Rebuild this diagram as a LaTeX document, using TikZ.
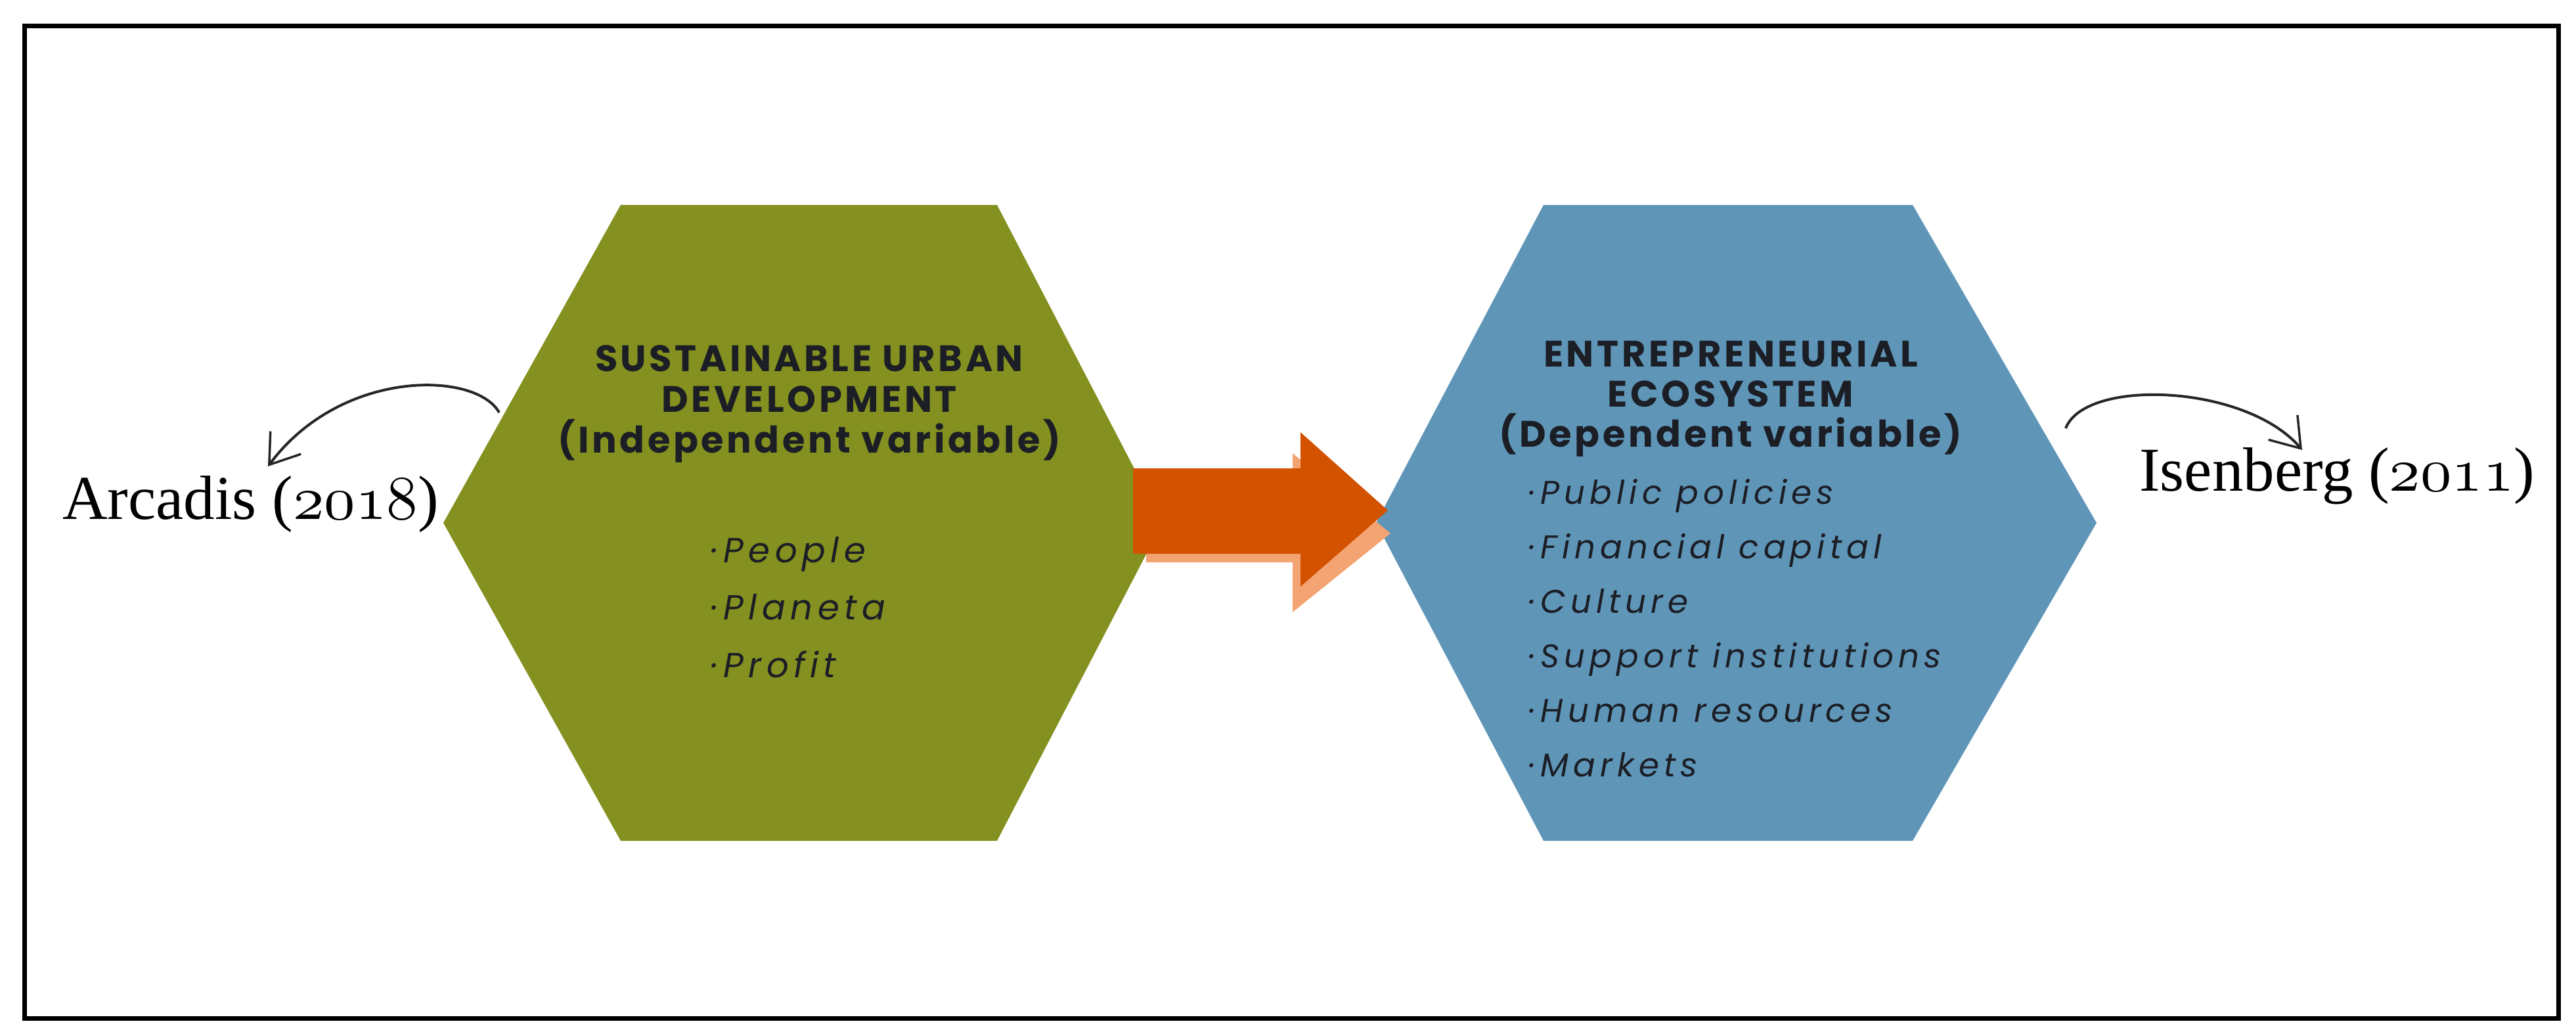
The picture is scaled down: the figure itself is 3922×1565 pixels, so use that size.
\documentclass[tikz,border=0pt]{standalone}
\usepackage{graphicx}
\usepackage{fontspec}
\usetikzlibrary{arrows.meta}
\newfontfamily\titlefont[LetterSpace=8]{Poppins}
\newfontfamily\itemfont[LetterSpace=14]{Poppins}
\newfontfamily\reffont{Liberation Serif}
\newcommand{\osfig}[1]{\scalebox{9.5}{\fontsize{10}{12}\usefont{OML}{cmm}{m}{it}#1}}
\definecolor{hexgreen}{HTML}{84901F}
\definecolor{hexblue}{HTML}{5F96B8}
\definecolor{arroworange}{HTML}{D25200}
\definecolor{arrowshadow}{HTML}{F4A472}
\definecolor{inktext}{HTML}{1C1E26}
\tikzset{
  titletext/.style={font=\titlefont\bfseries\fontsize{56}{62}\selectfont, text=inktext, anchor=base, inner sep=0pt},
  itemL/.style={font=\itemfont\itshape\fontsize{53}{60}\selectfont, text=inktext, anchor=base west, inner sep=0pt},
  itemR/.style={font=\itemfont\itshape\fontsize{50}{60}\selectfont, text=inktext, anchor=base west, inner sep=0pt},
  reftext/.style={font=\reffont\fontsize{95}{100}\selectfont, text=black, anchor=base west, inner sep=0pt},
  refarrow/.style={line width=4pt, black!85, -{Straight Barb[length=42pt,width=58pt,line width=3.5pt]}},
}
\begin{document}
\begin{tikzpicture}[x=1pt,y=-1pt]
\useasboundingbox (0,0) rectangle (3922,1565);
% frame
\draw[line width=7pt] (37.5,40) rectangle (3895,1550);
% hexagons
\coordinate (hlL) at (675,796);
\coordinate (hlTL) at (945,312);
\coordinate (hlTR) at (1518,312);
\coordinate (hlR) at (1770,796);
\coordinate (hlBR) at (1518,1280);
\coordinate (hlBL) at (945,1280);
\fill[hexgreen] (hlL) -- (hlTL) -- (hlTR) -- (hlR) -- (hlBR) -- (hlBL) -- cycle;
\coordinate (hrL) at (2095,796);
\coordinate (hrTL) at (2350,312);
\coordinate (hrTR) at (2912,312);
\coordinate (hrR) at (3192,796);
\coordinate (hrBR) at (2912,1280);
\coordinate (hrBL) at (2350,1280);
\fill[hexblue] (hrL) -- (hrTL) -- (hrTR) -- (hrR) -- (hrBR) -- (hrBL) -- cycle;
% big orange arrow with shadow
\fill[arrowshadow] (1745,722) -- (1968,722) -- (1968,690) -- (2117,812) -- (1968,932) -- (1968,856) -- (1745,856) -- cycle;
\fill[arroworange] (1725,713) -- (1980,713) -- (1980,658) -- (2113,777) -- (1980,893) -- (1980,843) -- (1725,843) -- cycle;
% left titles
\node[titletext] (t1a) at (1232,565) {SUSTAINABLE URBAN};
\node[titletext] (t1b) at (1232,627) {DEVELOPMENT};
\node[titletext] (t1c) at (1232,689) {(Independent variable)};
\node[itemL] (i1a) at (1083,856) {·People};
\node[itemL] (i1b) at (1083,943) {·Planeta};
\node[itemL] (i1c) at (1083,1031) {·Profit};
% right titles
\node[titletext] (t2a) at (2635,558) {ENTREPRENEURIAL};
\node[titletext] (t2b) at (2635,619) {ECOSYSTEM};
\node[titletext] (t2c) at (2635,680) {(Dependent variable)};
\node[itemR] (i2a) at (2328,767) {·Public policies};
\node[itemR] (i2b) at (2328,850) {·Financial capital};
\node[itemR] (i2c) at (2328,933) {·Culture};
\node[itemR] (i2d) at (2328,1016) {·Support institutions};
\node[itemR] (i2e) at (2328,1099) {·Human resources};
\node[itemR] (i2f) at (2328,1182) {·Markets};
% reference labels
\node[reftext] (arcadis) at (95,790) {Arcadis (\osfig{2018})};
\node[reftext] (isenberg) at (3257,747) {Isenberg (\osfig{2011})};
\coordinate (arcStart) at (760,628);
\coordinate (arcTip) at (408,710);
\coordinate (isbStart) at (3145,652);
\coordinate (isbTip) at (3505,685);
\draw[refarrow] (arcStart) .. controls (725,565) and (520,560) .. (arcTip);
\draw[refarrow] (isbStart) .. controls (3175,575) and (3420,585) .. (isbTip);
\end{tikzpicture}
\end{document}
